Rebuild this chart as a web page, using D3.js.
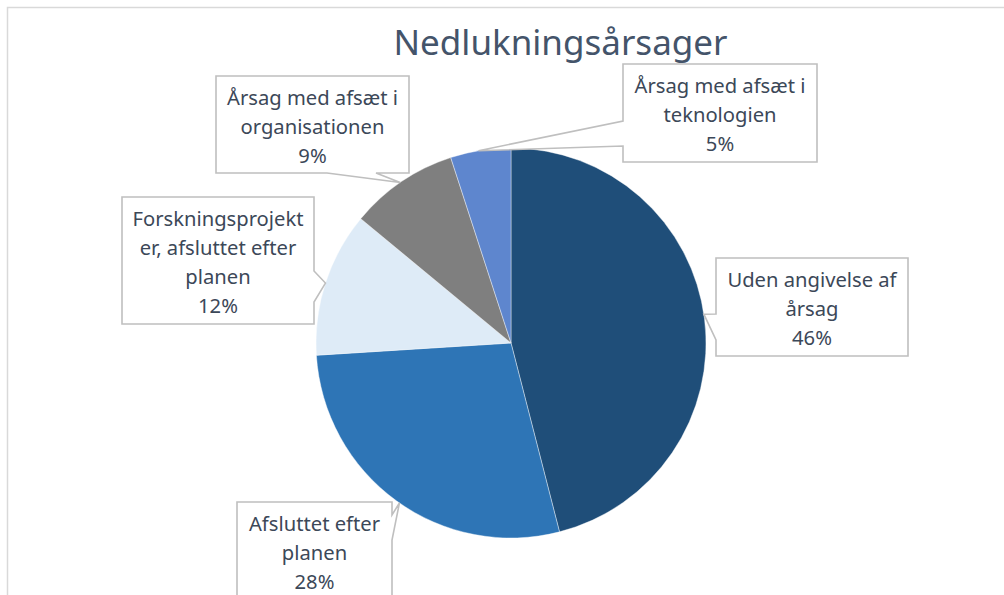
<!DOCTYPE html>
<html><head><meta charset="utf-8">
<script src="https://cdn.jsdelivr.net/npm/d3@7"></script>
<style>body{margin:0;background:#fff;}svg{display:block;}</style>
</head><body>
<svg id="chart" width="1004" height="595"></svg>
<script>
// ---- data ----
const title = "Nedlukningsårsager";
const categories = ["Uden angivelse af årsag", "Afsluttet efter planen", "Forskningsprojekter, afsluttet efter planen", "Årsag med afsæt i organisationen", "Årsag med afsæt i teknologien"];
const values = [46, 28, 12, 9, 5];
const labelLines = [
  ["Uden angivelse af", "årsag"],
  ["Afsluttet efter", "planen"],
  ["Forskningsprojekt", "er, afsluttet efter", "planen"],
  ["Årsag med afsæt i", "organisationen"],
  ["Årsag med afsæt i", "teknologien"]
];

// ---- layout ----
const colors = ["#1F4E79", "#2E75B6", "#DEEBF7", "#7F7F7F", "url(#techGrad)"];
const cx = 511, cy = 343, R = 195;
// callout boxes: x, y, w, h, notch side, notch from/to, tip angle (deg, clockwise from top)
const boxes = [
  {x:716, y:258, w:192, h:98,  side:"left",   a:340, b:314, ang:81.5},
  {x:237, y:502, w:155, h:98,  side:"right",  a:515, b:540, ang:214.9},
  {x:122, y:197, w:192, h:127, side:"right",  a:271, b:302, ang:287.9},
  {x:216, y:76,  w:193, h:97,  side:"bottom", a:376, b:327, ang:325.4},
  {x:623, y:64,  w:194, h:98,  side:"left",   a:146, b:121, ang:350.4}
];

const svg = d3.select("#chart");
const defs = svg.append("defs");
const g1 = defs.append("linearGradient").attr("id","techGrad")
  .attr("gradientUnits","userSpaceOnUse").attr("x1",0).attr("y1",cy-R).attr("x2",0).attr("y2",cy);
g1.append("stop").attr("offset","0%").attr("stop-color","#5E86CE");
g1.append("stop").attr("offset","100%").attr("stop-color","#3466C6");

// frame
svg.append("rect").attr("x",7.5).attr("y",7.5).attr("width",1010).attr("height",620)
  .attr("fill","#fff").attr("stroke","#D9D9D9").attr("stroke-width",1.5);

// title
svg.append("text").attr("x",560.5).attr("y",55).attr("text-anchor","middle")
  .attr("font-family","'Noto Sans', sans-serif").attr("font-size",35)
  .attr("fill","#44546A").text(title);

// pie
const pie = d3.pie().sort(null).value(d => d);
const arc = d3.arc().innerRadius(0).outerRadius(R);
const arcs = pie(values);
const pg = svg.append("g").attr("transform",`translate(${cx},${cy})`);
pg.selectAll("path").data(arcs).join("path")
  .attr("d", arc)
  .attr("fill", (d,i) => colors[i])
  .attr("stroke", "#ffffff").attr("stroke-opacity",0.5).attr("stroke-width",0.8);

// callouts
function calloutPath(b){
  const rad = b.ang*Math.PI/180;
  const tx = cx + R*Math.sin(rad), ty = cy - R*Math.cos(rad);
  const x0=b.x, y0=b.y, x1=b.x+b.w, y1=b.y+b.h;
  const p = [[x0,y0],[x1,y0]];
  if (b.side==="right"){ p.push([x1,b.a],[tx,ty],[x1,b.b]); }
  p.push([x1,y1]);
  if (b.side==="bottom"){ p.push([b.a,y1],[tx,ty],[b.b,y1]); }
  p.push([x0,y1]);
  if (b.side==="left"){ p.push([x0,b.a],[tx,ty],[x0,b.b]); }
  return "M" + p.map(q=>q.join(",")).join("L") + "Z";
}
const lg = svg.append("g");
boxes.forEach((b,i) => {
  lg.append("path").attr("d", calloutPath(b))
    .attr("fill","#fff").attr("stroke","#BFBFBF").attr("stroke-width",1.6)
    .attr("stroke-linejoin","miter");
  const lines = labelLines[i].concat([values[i] + "%"]);
  const t = lg.append("text").attr("text-anchor","middle")
    .attr("font-family","'Noto Sans', sans-serif").attr("font-size",20.2)
    .attr("fill","#3C4858");
  lines.forEach((ln,j) => {
    t.append("tspan").attr("x", b.x + b.w/2).attr("y", b.y + 28.5 + j*29).text(ln);
  });
});
</script>
</body></html>
